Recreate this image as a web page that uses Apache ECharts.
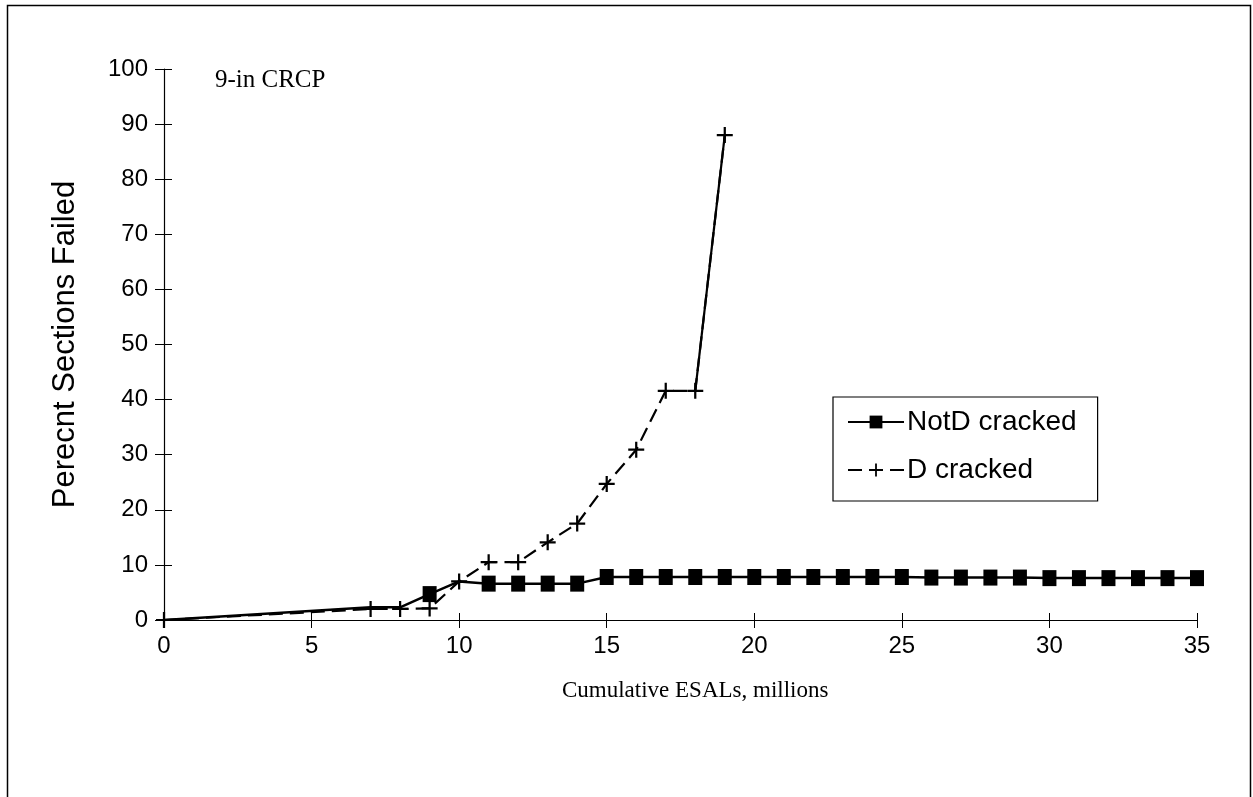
<!DOCTYPE html>
<html>
<head>
<meta charset="utf-8">
<script src="https://cdn.jsdelivr.net/npm/echarts@6/dist/echarts.min.js"></script>
<style>
html,body{margin:0;padding:0;background:#fff;}
#chart{width:1253px;height:797px;}
</style>
</head>
<body>
<div id="chart"></div>
<script>
// ---- data ----
const titleText = '9-in CRCP';
const xAxisName = 'Cumulative ESALs, millions';
const yAxisName = 'Perecnt Sections Failed';
const seriesNames = ['NotD cracked', 'D cracked'];

const notdX = [0, 7, 8, 9, 10, 11, 12, 13, 14, 15, 16, 17, 18, 19, 20, 21, 22, 23, 24, 25, 26, 27, 28, 29, 30, 31, 32, 33, 34, 35];
const notdY = [0, 2.3, 2.3, 4.7, 7.0, 6.6, 6.6, 6.6, 6.6, 7.8, 7.8, 7.8, 7.8, 7.8, 7.8, 7.8, 7.8, 7.8, 7.8, 7.8, 7.7, 7.7, 7.7, 7.7, 7.6, 7.6, 7.6, 7.6, 7.6, 7.6];
const notdUnmarkedX = [0, 7, 8, 10];

const dX = [0, 7, 8, 9, 10, 11, 12, 13, 14, 15, 16, 17, 18, 19];
const dY = [0, 2.0, 2.0, 2.1, 7.0, 10.5, 10.5, 14.1, 17.5, 24.7, 30.9, 41.6, 41.6, 88.0];

const xMin = 0, xMax = 35, xStep = 5;
const yMin = 0, yMax = 100, yStep = 10;

// ---- chart ----
const chart = echarts.init(document.getElementById('chart'), null, {renderer: 'canvas'});

const notdData = notdX.map((x, i) => {
  const item = {value: [x, notdY[i]]};
  if (notdUnmarkedX.includes(x)) item.symbol = 'none';
  return item;
});
const dData = dX.map((x, i) => [x, dY[i]]);

const plus = 'path://M4.3,0H5.7V4.3H10V5.7H5.7V10H4.3V5.7H0V4.3H4.3Z';
const labelFont = {fontFamily: 'Liberation Sans, Arial, sans-serif', fontSize: 24, color: '#000'};

const option = {
  animation: false,
  backgroundColor: '#fff',
  grid: {left: 164, right: 56, top: 69, bottom: 177, containLabel: false},
  graphic: [
    {type: 'rect', shape: {x: 7.5, y: 5.5, width: 1243, height: 800}, style: {fill: 'none', stroke: '#000', lineWidth: 1.5}, silent: true},
    {type: 'text', left: 215, top: 68, style: {text: titleText, font: '25px "Liberation Serif", "Times New Roman", serif', fill: '#000'}},
    {type: 'text', left: 562, top: 679, style: {text: xAxisName, font: '23px "Liberation Serif", "Times New Roman", serif', fill: '#000'}}
  ],
  legend: {
    orient: 'vertical',
    left: 833, top: 397,
    data: seriesNames,
    itemWidth: 56, itemHeight: 16,
    itemGap: 20,
    padding: [11, 21, 17, 14],
    borderColor: '#000', borderWidth: 1.2,
    textStyle: {fontFamily: 'Liberation Sans, Arial, sans-serif', fontSize: 28, color: '#000', padding: [0, 0, 0, -2]}
  },
  xAxis: [{
    type: 'value', min: xMin, max: xMax, interval: xStep,
    axisLine: {show: true, lineStyle: {color: '#000', width: 1.2}},
    axisTick: {show: true, inside: false, length: 8, lineStyle: {color: '#000'}},
    axisLabel: Object.assign({margin: 14}, labelFont),
    splitLine: {show: false}
  }, {
    type: 'value', min: xMin, max: xMax, interval: xStep, position: 'bottom',
    axisLine: {show: false},
    axisTick: {show: true, inside: true, length: 7, lineStyle: {color: '#000'}},
    axisLabel: {show: false}, splitLine: {show: false}
  }],
  yAxis: [{
    type: 'value', min: yMin, max: yMax, interval: yStep,
    name: yAxisName, nameLocation: 'middle', nameGap: 83,
    nameTextStyle: {fontFamily: 'Liberation Sans, Arial, sans-serif', fontSize: 31, color: '#000'},
    axisLine: {show: true, lineStyle: {color: '#000', width: 1.2}},
    axisTick: {show: true, inside: false, length: 9, lineStyle: {color: '#000'}},
    axisLabel: Object.assign({margin: 16}, labelFont),
    splitLine: {show: false}
  }, {
    type: 'value', min: yMin, max: yMax, interval: yStep, position: 'left',
    axisLine: {show: false},
    axisTick: {show: true, inside: true, length: 8, lineStyle: {color: '#000'}},
    axisLabel: {show: false}, splitLine: {show: false}
  }],
  series: [{
    name: seriesNames[0], type: 'line', data: notdData,
    symbol: 'rect', symbolSize: [14, 16],
    itemStyle: {color: '#000'},
    lineStyle: {color: '#000', width: 2.5, type: 'solid'},
    z: 3
  }, {
    name: seriesNames[1], type: 'line', data: dData,
    symbol: plus, symbolSize: 16,
    itemStyle: {color: '#000'},
    lineStyle: {color: '#000', width: 2.2, type: [14, 7]},
    z: 2
  }, {
    name: seriesNames[1] + ' (last segment)', type: 'line', data: dData.slice(-2),
    symbol: 'none',
    lineStyle: {color: '#000', width: 2.2, type: 'solid'},
    z: 2
  }]
};
chart.setOption(option);
</script>
</body>
</html>
